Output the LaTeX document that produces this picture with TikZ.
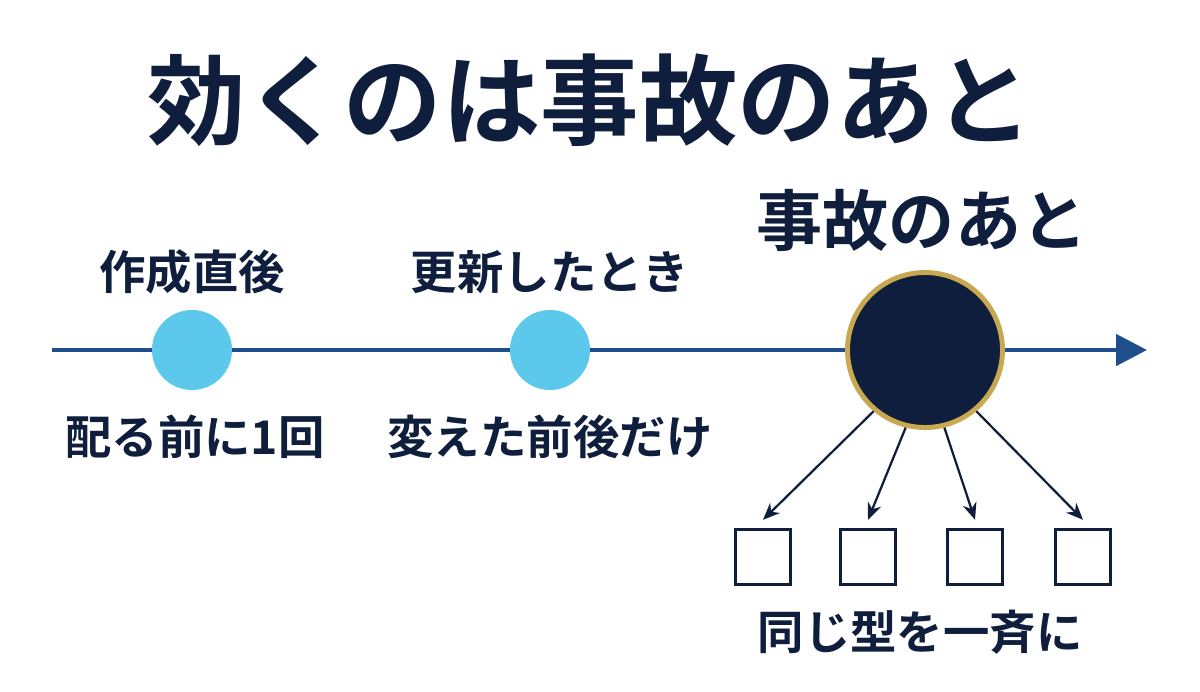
\documentclass[tikz,border=0pt]{standalone}
\usepackage{fontspec}
\newfontfamily\jp{Noto Sans CJK JP}[BoldFont={Noto Sans CJK JP Bold}]
\usetikzlibrary{arrows.meta}
\definecolor{navy}{HTML}{0F1E3C}
\definecolor{lineblue}{HTML}{1F4E8C}
\definecolor{skyblue}{HTML}{5BC8EC}
\definecolor{gold}{HTML}{C8A850}
\begin{document}
\begin{tikzpicture}[x=0.025cm,y=-0.025cm,
	label_node/.style={text=navy,font=\jp\bfseries\fontsize{33}{38}\selectfont},
	point_node/.style={circle,fill=skyblue,minimum size=80*0.025cm,inner sep=0pt},
	box_node/.style={draw=navy,line width=1.8pt,minimum size=55*0.025cm,inner sep=0pt},
	hit_arrow/.style={draw=navy,line width=1.6pt,-{Stealth[length=12pt,width=10pt]}}]
		\useasboundingbox (0,0) rectangle (1200,691);
		
		\node[text=navy,font=\jp\bfseries\fontsize{70}{76}\selectfont] (title) at (590,100) {効くのは事故のあと};
		
		\coordinate (start) at (52,350);
		\coordinate (end) at (1147,350);
		\draw[lineblue,line width=3.5pt,-{Triangle[length=22pt,width=22pt]}] (start) -- (end);
		
		\node[point_node] (p1) at (192,350) {};
		\node[point_node] (p2) at (550,350) {};
		\node[circle,fill=navy,draw=gold,line width=3.5pt,minimum size=155*0.025cm,inner sep=0pt] (acc) at (925,350) {};
		
		\node[label_node] (l1) at (192,272) {作成直後};
		\node[label_node] (l2) at (550,272) {更新したとき};
		\node[label_node,font=\jp\bfseries\fontsize{47}{52}\selectfont] (l3) at (922,220) {事故のあと};
		\node[label_node] (b1) at (195,437) {配る前に1回};
		\node[label_node] (b2) at (550,437) {変えた前後だけ};
		
		\node[box_node] (s1) at (763,557) {};
		\node[box_node] (s2) at (868,557) {};
		\node[box_node] (s3) at (975,557) {};
		\node[box_node] (s4) at (1083,557) {};
		
		\draw[hit_arrow] (acc.-130) -- ([yshift=6pt]s1.north);
		\draw[hit_arrow] (acc.-104) -- ([yshift=6pt]s2.north);
		\draw[hit_arrow] (acc.-76) -- ([yshift=6pt]s3.north);
		\draw[hit_arrow] (acc.-50) -- ([yshift=6pt]s4.north);
		
		\node[label_node] (b3) at (920,632) {同じ型を一斉に};
\end{tikzpicture}
\end{document}
